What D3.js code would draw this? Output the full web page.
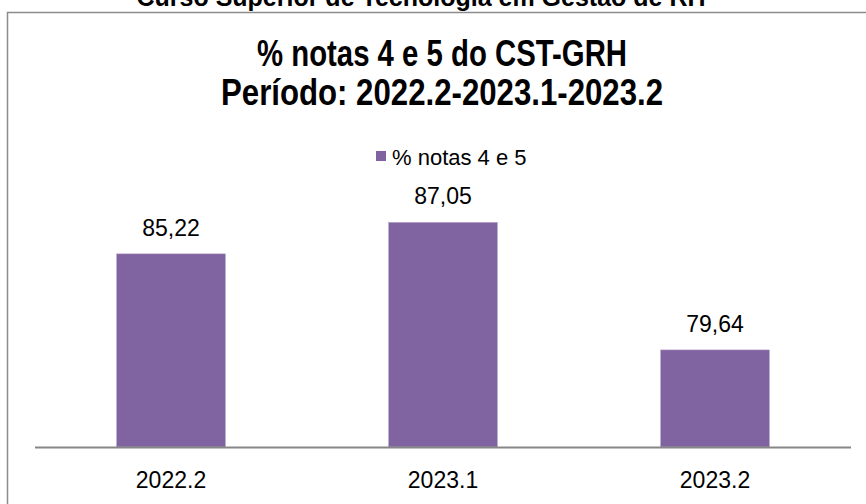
<html>
<script src="https://d3js.org/d3.v7.min.js"></script>
<style>
body{margin:0;background:#fff;}
svg{display:block;}
text{font-family:"Liberation Sans",Arial,sans-serif;}
</style>
<div class="chart"></div>
<script>
const width = 866;
const height = 504;

const categories = ['2022.2', '2023.1', '2023.2'];
const values = [85.22, 87.05, 79.64];
const labels = ['85,22', '87,05', '79,64'];
const seriesName = '% notas 4 e 5';
const titleLines = ['% notas 4 e 5 do CST-GRH', 'Período: 2022.2-2023.1-2023.2'];
const pageTitle = 'Curso Superior de Tecnologia em Gestão de RH';

const barColor = '#8064a2';
// the title font is a narrow one, squeeze the lines to these widths
const titleWidths = [370, 442];

const x = d3.scaleBand()
  .domain(categories)
  .range([35, 851])
  .paddingInner(0.6)
  .paddingOuter(0.3);

const y = d3.scaleLinear()
  .domain([74, 88])
  .range([447, 206]);

const svg = d3.select('.chart')
  .append('svg')
    .attr('width', width)
    .attr('height', height);

// page heading, cut off at the top like in the source
svg.append('text')
  .attr('x', 421)
  .attr('y', 6)
  .attr('text-anchor', 'middle')
  .style('font-weight', 'bold')
  .style('font-size', '25px')
  .text(pageTitle);

// chart frame
svg.append('rect')
  .attr('x', 7.5)
  .attr('y', 12.5)
  .attr('width', 900)
  .attr('height', 600)
  .attr('fill', 'none')
  .attr('stroke', '#8c8c8c')
  .attr('stroke-width', 1.5);

svg.append('g')
  .selectAll('text')
  .data(titleLines)
  .enter()
  .append('text')
    .attr('x', 442)
    .attr('y', (d, i) => 66 + i * 39)
    .attr('text-anchor', 'middle')
    .attr('textLength', (d, i) => titleWidths[i])
    .attr('lengthAdjust', 'spacingAndGlyphs')
    .style('font-weight', 'bold')
    .style('font-size', '36px')
    .text(d => d);

// legend
const legend = svg.append('g').attr('transform', 'translate(376,151)');
legend.append('rect')
  .attr('width', 10)
  .attr('height', 10)
  .attr('fill', barColor);
legend.append('text')
  .attr('x', 16)
  .attr('y', 14)
  .style('font-size', '22px')
  .text(seriesName);

// bars
svg.append('g')
  .selectAll('rect')
  .data(values)
  .enter()
  .append('rect')
    .attr('x', (d, i) => x(categories[i]))
    .attr('y', d => y(d))
    .attr('width', x.bandwidth())
    .attr('height', d => y(74) - y(d))
    .attr('fill', barColor)
    .attr('stroke', '#b3a2c7')
    .attr('stroke-width', 0.5);

// value labels
svg.append('g')
  .selectAll('text')
  .data(values)
  .enter()
  .append('text')
    .attr('x', (d, i) => x(categories[i]) + x.bandwidth() / 2)
    .attr('y', d => y(d) - 18)
    .attr('text-anchor', 'middle')
    .style('font-size', '23px')
    .text((d, i) => labels[i]);

// category axis
const axis = svg.append('g')
  .attr('transform', `translate(0,${y(74)})`)
  .call(d3.axisBottom(x).tickSize(0).tickPadding(25));
axis.select('.domain')
  .attr('d', 'M35,0.5H851')
  .attr('stroke', '#878787')
  .attr('stroke-width', 2);
axis.selectAll('text')
  .attr('fill', '#000')
  .style('font-size', '23px');
</script>
</html>
